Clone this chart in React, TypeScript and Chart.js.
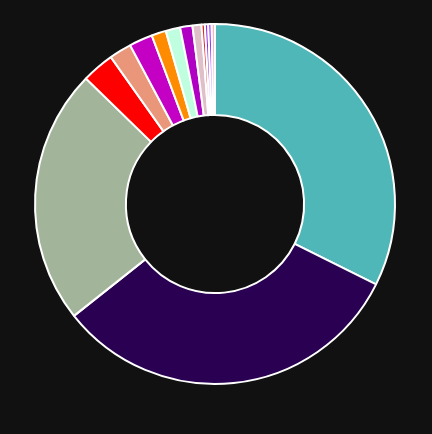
import React, { useEffect, useRef } from "react";
import { Chart, registerables } from "chart.js";

Chart.register(...registerables);

const categories = [
  "A", "B", "C", "D", "E", "F", "G", "H", "I", "J", "K", "L", "M", "N",
];
const values = [32.3, 31.9, 22.9, 2.9, 2.0, 2.1, 1.3, 1.3, 1.1, 0.8, 0.3, 0.3, 0.3, 0.3];
const colors = [
  "#4fb7b7", "#290052", "#a2b59a", "#ff0000", "#e9967a", "#c400c4", "#ff8c00",
  "#bfffdf", "#b000c4", "#dfc0c8", "#e02828", "#8a2be2", "#9b30ff", "#f4b6c2",
];

export default function App() {
  const ref = useRef<HTMLCanvasElement | null>(null);
  useEffect(() => {
    document.body.style.background = "#111111";
    const chart = new Chart(ref.current!, {
      type: "doughnut",
      data: {
        labels: categories,
        datasets: [
          {
            data: values,
            backgroundColor: colors,
            borderColor: "#ffffff",
            borderWidth: 2,
          },
        ],
      },
      options: {
        animation: false,
        responsive: true,
        maintainAspectRatio: false,
        radius: 180,
        cutout: "49.5%",
        layout: { padding: { left: 0, right: 2, top: 0, bottom: 0 } },
        plugins: { legend: { display: false }, tooltip: { enabled: false } },
      },
    });
    return () => chart.destroy();
  }, []);
  return (
    <div style={{ width: 416, height: 392, position: "relative" }}>
      <canvas ref={ref} />
    </div>
  );
}
